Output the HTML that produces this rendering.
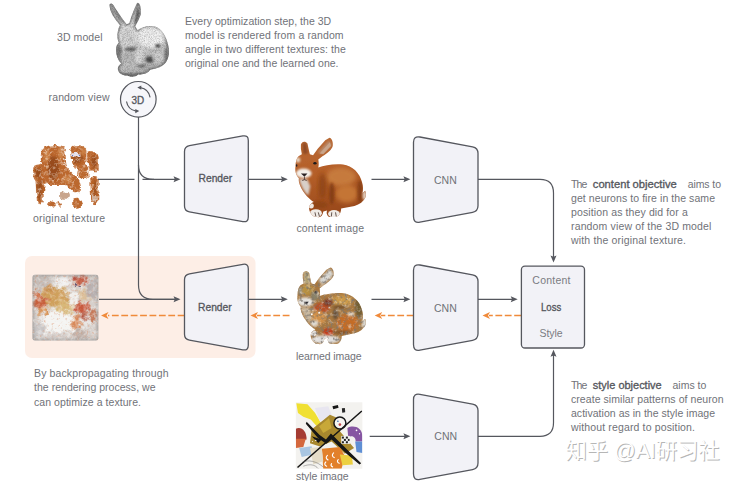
<!DOCTYPE html>
<html><head><meta charset="utf-8">
<style>
html,body{margin:0;padding:0;background:#fff;}
body{width:740px;height:481px;overflow:hidden;}
svg{display:block;}
text{font-family:"Liberation Sans","DejaVu Sans",sans-serif;font-size:10.5px;fill:#707278;}
.b{font-weight:normal;fill:#55575d;stroke:#55575d;stroke-width:0.32px;}
.ln{fill:none;stroke:#55575e;stroke-width:1.2;}
.box{fill:#f2f2f7;stroke:#55575e;stroke-width:1.3;stroke-linejoin:round;}
.or{fill:none;stroke:#f08a3a;stroke-width:1.6;stroke-dasharray:6.8 2.6;}
</style></head><body>
<svg width="740" height="481" viewBox="0 0 740 481">
<defs>
<filter id="bl"><feGaussianBlur stdDeviation="0.35"/></filter>
</defs>
<rect width="740" height="481" fill="#fff"/>
<!-- highlight -->
<rect x="25" y="256" width="230.500" height="102" rx="7" fill="#fdeee6"/>

<!-- IMG1 -->
<defs>
<linearGradient id="g3d" x1="0" y1="0" x2="0.35" y2="1">
<stop offset="0" stop-color="#c4c4c4"/><stop offset="0.45" stop-color="#e2e2e2"/><stop offset="1" stop-color="#b4b4b4"/>
</linearGradient>
<filter id="b1" x="-20%" y="-20%" width="140%" height="140%"><feGaussianBlur stdDeviation="1.6"/></filter>
<filter id="b2" x="-30%" y="-30%" width="160%" height="160%"><feGaussianBlur stdDeviation="6"/></filter>
<filter id="b3" x="-30%" y="-30%" width="160%" height="160%"><feGaussianBlur stdDeviation="10"/></filter>
<filter id="noise" x="0" y="0" width="100%" height="100%">
<feTurbulence type="fractalNoise" baseFrequency="0.9" numOctaves="2" seed="3" result="n"/>
<feColorMatrix in="n" type="matrix" values="0 0 0 0 0  0 0 0 0 0  0 0 0 0 0  1.6 0 0 0 -0.6" result="a"/>
<feComposite in="a" in2="SourceAlpha" operator="in"/>
</filter>
<path id="bun3d" d="M56 32 C58 18 72 16 80 30 L96 56 L116 86 L140 120 L160 146 L176 140 L188 100 L208 50 L223 18 C235 12 243 30 245 50 L246 85 L232 120 L212 158 L226 182 C250 165 290 150 330 160 C370 170 400 220 412 280 C420 320 412 350 396 375 C380 400 340 415 302 420 C290 442 250 452 230 446 C210 466 180 464 163 452 C140 458 112 442 108 420 C104 404 114 390 128 384 C108 360 96 330 96 300 C96 280 103 265 113 255 C103 235 101 210 108 185 C112 168 116 158 120 152 L95 120 L75 90 L62 60 Z"/>
<clipPath id="c3d"><use href="#bun3d"/></clipPath>
</defs>
<!-- 3D model bunny -->
<g transform="translate(100,0) scale(0.16632)">
<g filter="url(#b1)">
<use href="#bun3d" fill="url(#g3d)"/>
<g clip-path="url(#c3d)">
<use href="#bun3d" fill="none" stroke="#5a5a5a" stroke-width="16" filter="url(#b2)" opacity="0.75"/>
<ellipse cx="305" cy="225" rx="85" ry="62" fill="#f0f0f0" filter="url(#b3)"/>
<ellipse cx="165" cy="210" rx="38" ry="42" fill="#d4d4d4" filter="url(#b2)"/>
<ellipse cx="195" cy="296" rx="50" ry="13" fill="#666" filter="url(#b2)"/>
<ellipse cx="114" cy="320" rx="18" ry="55" fill="#7a7a7a" filter="url(#b2)"/>
<ellipse cx="348" cy="275" rx="16" ry="11" fill="#3c3c3c" filter="url(#b2)"/>
<ellipse cx="300" cy="358" rx="26" ry="20" fill="#505050" filter="url(#b2)"/>
<ellipse cx="400" cy="340" rx="14" ry="55" fill="#7a7a7a" filter="url(#b2)"/>
<ellipse cx="200" cy="452" rx="95" ry="10" fill="#6c6c6c" filter="url(#b2)"/>
<ellipse cx="250" cy="395" rx="26" ry="10" fill="#747474" filter="url(#b2)"/>
<path d="M66 40 L120 125 L140 145 L110 90 Z" fill="#606060" filter="url(#b2)"/>
<path d="M226 30 L238 80 L218 140 L206 140 Z" fill="#555" filter="url(#b2)"/>
<ellipse cx="235" cy="330" rx="28" ry="55" fill="#d8d8d8" filter="url(#b3)"/>
<ellipse cx="350" cy="340" rx="35" ry="40" fill="#cdcdcd" filter="url(#b3)"/>
<ellipse cx="165" cy="345" rx="45" ry="30" fill="#b8b8b8" filter="url(#b3)"/>
</g>
</g>
<use href="#bun3d" fill="#333" filter="url(#noise)" opacity="0.3"/>
</g>
<!-- /IMG1 -->
<!-- IMG2 -->
<defs>
<filter id="rough" x="-10%" y="-10%" width="120%" height="120%">
<feTurbulence type="fractalNoise" baseFrequency="0.035" numOctaves="3" seed="7" result="t"/>
<feDisplacementMap in="SourceGraphic" in2="t" scale="28" xChannelSelector="R" yChannelSelector="G" result="d"/>
<feGaussianBlur in="d" stdDeviation="1.8"/>
</filter>
<filter id="mottle" x="0" y="0" width="100%" height="100%">
<feTurbulence type="fractalNoise" baseFrequency="0.05" numOctaves="3" seed="11" result="n"/>
<feColorMatrix in="n" type="matrix" values="0 0 0 0 1  0 0 0 0 0.95  0 0 0 0 0.9  2.2 0 0 0 -1.05" result="a"/>
<feComposite in="a" in2="SourceAlpha" operator="in"/>
<feGaussianBlur stdDeviation="1.5"/>
</filter>
</defs>
<!-- original texture -->
<g transform="translate(25,135) scale(0.16632)" filter="url(#rough)">
<g fill="#bb672e" id="otex">
<path d="M100 95 C120 60 200 50 235 70 C250 110 240 160 255 200 C290 230 320 260 335 320 C320 350 295 350 280 330 C260 310 250 300 235 300 L140 300 C120 280 118 240 112 200 C95 170 90 130 100 95 Z"/>
<path d="M50 190 C70 170 110 175 125 200 L130 290 C100 300 60 290 50 250 Z"/>
<path d="M62 255 C80 245 110 250 118 270 L112 400 C100 425 80 420 72 400 Z"/>
<path d="M275 80 C300 55 350 55 365 85 C375 110 365 130 372 150 C365 185 330 200 300 195 C280 180 285 150 280 130 C270 110 268 95 275 80 Z"/>
<path d="M375 100 C400 88 438 105 443 140 L443 215 C425 232 395 225 385 205 C378 170 368 130 375 100 Z"/>
<path d="M392 250 C410 240 438 245 443 262 L440 400 C430 422 405 420 398 400 Z"/>
<path d="M325 165 C360 160 392 195 388 245 C362 280 325 268 315 238 C308 210 312 182 325 165 Z"/>
<path d="M140 405 C160 395 180 400 185 415 C180 435 150 440 140 425 Z"/>
<path d="M195 400 C210 395 225 405 222 420 C210 430 195 425 195 400 Z"/>
<path d="M290 390 C310 375 345 385 345 410 C335 440 300 445 290 425 Z"/>
<path d="M300 250 C325 260 340 300 335 330 C310 330 290 300 300 250 Z"/>
</g>
<g fill="#8a4218" filter="url(#b2)" opacity="0.7">
<ellipse cx="170" cy="200" rx="35" ry="70"/>
<ellipse cx="90" cy="330" rx="15" ry="60"/>
<ellipse cx="320" cy="140" rx="30" ry="30"/>
<ellipse cx="415" cy="160" rx="15" ry="40"/>
<ellipse cx="420" cy="320" rx="10" ry="50"/>
<ellipse cx="80" cy="230" rx="20" ry="30"/>
</g>
<g fill="#d08a50" filter="url(#b2)" opacity="0.8">
<ellipse cx="130" cy="120" rx="20" ry="40"/>
<ellipse cx="215" cy="110" rx="15" ry="40"/>
<ellipse cx="350" cy="100" rx="12" ry="25"/>
<ellipse cx="250" cy="270" rx="25" ry="20"/>
</g>
<g fill="#c9a58c">
<path d="M210 345 C230 335 265 340 270 365 C260 395 225 395 212 380 Z"/>
<path d="M402 360 C415 355 432 360 432 380 C430 410 410 412 404 395 Z"/>
</g>
<use href="#otex" filter="url(#mottle)" opacity="0.7"/>
<g fill="#e8e4ee"><ellipse cx="305" cy="118" rx="28" ry="12"/></g>
<g fill="#5a6ab0"><circle cx="292" cy="118" r="4"/><circle cx="322" cy="116" r="4"/></g>
<path d="M310 200 L330 250 L345 290 M380 200 L385 250" stroke="#fff" stroke-width="5" fill="none"/>
<path d="M230 140 L245 190" stroke="#fff" stroke-width="4" fill="none"/>
</g>
<!-- /IMG2 -->
<!-- IMG3 -->
<defs>
<path id="bunc" d="M85 78 C90 58 110 58 120 72 L128 110 L133 130 L150 135 L175 100 L215 55 L238 42 C250 44 258 65 255 85 C250 105 225 125 200 140 L178 158 C181 175 181 190 178 200 C210 190 260 180 310 185 C360 192 400 230 412 280 C418 300 418 320 414 338 L428 325 C438 340 432 365 420 375 C405 395 380 405 350 410 L300 420 C300 440 290 462 270 465 L235 465 C222 455 220 440 225 430 L205 435 C200 455 195 465 180 466 L155 462 C135 450 125 425 130 408 C135 395 145 388 155 385 C130 370 100 340 82 300 C75 285 72 270 74 258 C60 245 52 220 56 195 C56 170 62 150 72 140 L90 130 L85 100 Z"/>
<clipPath id="cbc"><use href="#bunc"/></clipPath>
<linearGradient id="gcb" x1="0" y1="0" x2="0.2" y2="1">
<stop offset="0" stop-color="#b96a35"/><stop offset="0.5" stop-color="#b45e28"/><stop offset="1" stop-color="#9a4a1c"/>
</linearGradient>
</defs>
<!-- content bunny -->
<g transform="translate(285,130) scale(0.18711)">
<g filter="url(#b1)">
<use href="#bunc" fill="url(#gcb)"/>
<g clip-path="url(#cbc)">
<ellipse cx="300" cy="250" rx="80" ry="50" fill="#c67a3e" filter="url(#b3)"/>
<ellipse cx="330" cy="340" rx="60" ry="50" fill="#c47436" filter="url(#b3)"/>
<ellipse cx="250" cy="340" rx="14" ry="60" fill="#7e3a14" filter="url(#b2)" opacity="0.8"/>
<ellipse cx="200" cy="300" rx="20" ry="70" fill="#8a4218" filter="url(#b3)" opacity="0.8"/>
<ellipse cx="400" cy="330" rx="14" ry="60" fill="#7e3a14" filter="url(#b2)" opacity="0.7"/>
<ellipse cx="180" cy="400" rx="50" ry="20" fill="#8a4218" filter="url(#b2)" opacity="0.7"/>
<path d="M95 70 L112 70 L122 125 L98 128 Z" fill="#8c4a26" filter="url(#b2)"/>
<path d="M175 120 L235 55 L250 80 L200 130 Z" fill="#b98a6a" filter="url(#b2)"/>
<path d="M185 125 L240 65 L246 85 L205 128 Z" fill="#c9a58a" filter="url(#b1)"/>
<!-- muzzle white -->
<ellipse cx="100" cy="232" rx="42" ry="26" fill="#f4efe9" filter="url(#b2)"/>
<path d="M75 260 C85 300 100 330 125 350 L135 300 L120 265 Z" fill="#d8cfc8" filter="url(#b2)"/>
<ellipse cx="70" cy="160" rx="12" ry="14" fill="#e8d8c8" filter="url(#b2)"/>
<!-- nose -->
<path d="M85 232 L120 232 L104 250 Z" fill="#2a2024"/>
<path d="M104 250 L104 265 M104 265 L92 270 M104 265 L116 270" stroke="#3a2a2a" stroke-width="4" fill="none"/>
<!-- eye -->
<ellipse cx="160" cy="178" rx="9" ry="7" fill="#1e1a1a"/>
<ellipse cx="62" cy="190" rx="4" ry="7" fill="#2a2222"/>
<!-- paws -->
<ellipse cx="165" cy="445" rx="32" ry="22" fill="#f0ebe6" filter="url(#b1)"/>
<ellipse cx="262" cy="448" rx="32" ry="20" fill="#f0ebe6" filter="url(#b1)"/>
<ellipse cx="140" cy="405" rx="14" ry="14" fill="#efe8e2" filter="url(#b1)"/>
<path d="M160 440 L165 462 M178 440 L184 462 M250 440 L248 462 M270 440 L274 462" stroke="#5a4a44" stroke-width="5"/>
<ellipse cx="425" cy="350" rx="10" ry="24" fill="#e6d6c8" filter="url(#b2)"/>
</g>
</g>
</g>
<!-- /IMG3 -->
<!-- IMG4 -->
<defs>
<filter id="mot2" x="0" y="0" width="100%" height="100%">
<feTurbulence type="fractalNoise" baseFrequency="0.045" numOctaves="3" seed="23" result="n"/>
<feColorMatrix in="n" type="matrix" values="0 0 0 0 0.93  0 0 0 0 0.92  0 0 0 0 0.9  2.6 0 0 0 -1.3" result="a"/>
<feComposite in="a" in2="SourceAlpha" operator="in"/>
<feGaussianBlur stdDeviation="1.2"/>
</filter>
<filter id="mot3" x="0" y="0" width="100%" height="100%">
<feTurbulence type="fractalNoise" baseFrequency="0.06" numOctaves="2" seed="5" result="n"/>
<feColorMatrix in="n" type="matrix" values="0 0 0 0 0.2  0 0 0 0 0.18  0 0 0 0 0.16  0 3.2 0 0 -1.62" result="a"/>
<feComposite in="a" in2="SourceAlpha" operator="in"/>
<feGaussianBlur stdDeviation="1.2"/>
</filter>
</defs>
<!-- learned bunny -->
<g transform="translate(285,260) scale(0.18711) translate(12.5,-0.6) scale(0.97,0.967)">
<g filter="url(#b1)">
<use href="#bunc" fill="#a87840"/>
<g clip-path="url(#cbc)">
<ellipse cx="300" cy="225" rx="60" ry="30" fill="#cc9a48" filter="url(#b3)"/>
<ellipse cx="330" cy="350" rx="60" ry="50" fill="#c46c28" filter="url(#b3)"/>
<ellipse cx="395" cy="260" rx="22" ry="60" fill="#6a5a30" filter="url(#b2)" opacity="0.85"/>
<ellipse cx="190" cy="265" rx="45" ry="28" fill="#b85028" filter="url(#b2)"/>
<ellipse cx="225" cy="235" rx="25" ry="18" fill="#7a3020" filter="url(#b2)"/>
<ellipse cx="225" cy="400" rx="28" ry="24" fill="#c03c1c" filter="url(#b2)"/>
<ellipse cx="265" cy="300" rx="14" ry="30" fill="#5a4a3a" filter="url(#b2)" opacity="0.8"/>
<ellipse cx="170" cy="320" rx="40" ry="40" fill="#d09048" filter="url(#b2)"/>
<ellipse cx="110" cy="165" rx="35" ry="30" fill="#b89040" filter="url(#b2)"/>
<path d="M92 66 L118 66 L128 128 L92 130 Z" fill="#c8c0a0" filter="url(#b2)"/>
<path d="M100 70 L110 70 L118 125 L104 125 Z" fill="#a08a50" filter="url(#b2)"/>
<path d="M170 115 L235 48 L256 80 L200 138 Z" fill="#d4d4d0" filter="url(#b2)"/>
<ellipse cx="100" cy="232" rx="45" ry="26" fill="#e4e2de" filter="url(#b2)"/>
<ellipse cx="150" cy="200" rx="22" ry="26" fill="#8a8268" filter="url(#b2)"/>
<ellipse cx="70" cy="170" rx="12" ry="20" fill="#9a9484" filter="url(#b2)"/>
<path d="M75 260 C85 300 100 330 125 350 L135 300 L120 265 Z" fill="#c8b8a0" filter="url(#b2)"/>
<ellipse cx="210" cy="440" rx="80" ry="24" fill="#e0dedc" filter="url(#b2)"/>
<ellipse cx="145" cy="405" rx="16" ry="16" fill="#e4e0dc" filter="url(#b1)"/>
<ellipse cx="425" cy="350" rx="12" ry="26" fill="#dcdcd8" filter="url(#b2)"/>
<ellipse cx="150" cy="350" rx="22" ry="16" fill="#dcd8d0" filter="url(#b2)"/>
<ellipse cx="350" cy="300" rx="18" ry="10" fill="#e0d8c8" filter="url(#b2)"/>
<ellipse cx="290" cy="260" rx="40" ry="10" fill="#6a4a2a" filter="url(#b2)" opacity="0.8"/>
<ellipse cx="300" cy="400" rx="50" ry="10" fill="#7a4a22" filter="url(#b2)" opacity="0.8"/>
<circle cx="135" cy="300" r="5" fill="#fff"/><circle cx="175" cy="292" r="5" fill="#fff"/><circle cx="230" cy="265" r="4" fill="#fff"/><circle cx="330" cy="215" r="4" fill="#f8e8c0"/>
<path d="M88 232 L118 232 L104 248 Z" fill="#2a2a30"/>
<ellipse cx="158" cy="180" rx="8" ry="7" fill="#222"/>
</g>
</g>
<use href="#bunc" filter="url(#mot2)" opacity="0.5"/>
<use href="#bunc" filter="url(#mot3)" opacity="0.9"/>
</g>
<!-- /IMG4 -->
<!-- IMG5 -->
<defs>
<clipPath id="clt"><rect x="45" y="40" width="396" height="396" rx="14"/></clipPath>
<filter id="mot4" x="0" y="0" width="100%" height="100%">
<feTurbulence type="fractalNoise" baseFrequency="0.04" numOctaves="3" seed="31" result="n"/>
<feColorMatrix in="n" type="matrix" values="0 0 0 0 0.97  0 0 0 0 0.96  0 0 0 0 0.95  2.6 0 0 0 -1.15" result="a"/>
<feComposite in="a" in2="SourceAlpha" operator="in"/>
<feGaussianBlur stdDeviation="1.5"/>
</filter>
<filter id="mot5" x="0" y="0" width="100%" height="100%">
<feTurbulence type="fractalNoise" baseFrequency="0.07" numOctaves="2" seed="9" result="n"/>
<feColorMatrix in="n" type="matrix" values="0 0 0 0 0.72  0 0 0 0 0.3  0 0 0 0 0.16  0 2.8 0 0 -1.6" result="a"/>
<feComposite in="a" in2="SourceAlpha" operator="in"/>
<feGaussianBlur stdDeviation="1.5"/>
</filter>
<filter id="rough2" x="-5%" y="-5%" width="110%" height="110%">
<feTurbulence type="fractalNoise" baseFrequency="0.03" numOctaves="4" seed="17" result="t"/>
<feDisplacementMap in="SourceGraphic" in2="t" scale="70" xChannelSelector="R" yChannelSelector="G" result="d"/>
<feGaussianBlur in="d" stdDeviation="2.2"/>
</filter>
</defs>
<!-- learned texture -->
<g transform="translate(25,268) scale(0.16632)">
<g clip-path="url(#clt)">
<g filter="url(#rough2)">
<rect x="-20" y="-20" width="530" height="530" fill="#d6d0cc"/>
<ellipse cx="100" cy="90" rx="60" ry="50" fill="#c4bcb8" filter="url(#b3)"/>
<ellipse cx="200" cy="330" rx="110" ry="80" fill="#f4f4f2" filter="url(#b3)"/>
<ellipse cx="230" cy="90" rx="40" ry="50" fill="#f0efee" filter="url(#b3)"/>
<ellipse cx="180" cy="175" rx="85" ry="60" fill="#cfa05c" filter="url(#b3)"/>
<ellipse cx="240" cy="235" rx="60" ry="38" fill="#d8b878" filter="url(#b3)"/>
<ellipse cx="90" cy="210" rx="40" ry="40" fill="#c8603c" filter="url(#b2)"/>
<ellipse cx="120" cy="260" rx="30" ry="20" fill="#d89050" filter="url(#b2)"/>
<ellipse cx="330" cy="75" rx="45" ry="30" fill="#c4604a" filter="url(#b2)"/>
<ellipse cx="340" cy="240" rx="40" ry="40" fill="#c8583c" filter="url(#b2)"/>
<ellipse cx="360" cy="160" rx="40" ry="35" fill="#dcc09a" filter="url(#b3)"/>
<ellipse cx="310" cy="330" rx="30" ry="40" fill="#d88858" filter="url(#b2)"/>
<ellipse cx="400" cy="130" rx="30" ry="60" fill="#b8b0b0" filter="url(#b3)"/>
<ellipse cx="410" cy="280" rx="25" ry="40" fill="#c47858" filter="url(#b2)"/>
<ellipse cx="80" cy="380" rx="40" ry="50" fill="#c8c4c4" filter="url(#b3)"/>
<ellipse cx="330" cy="400" rx="50" ry="25" fill="#c0b0a8" filter="url(#b2)"/>
<ellipse cx="310" cy="110" rx="10" ry="8" fill="#5a4a6a" filter="url(#b1)"/>
<ellipse cx="150" cy="130" rx="30" ry="20" fill="#c89050" filter="url(#b2)"/>
<ellipse cx="70" cy="160" rx="20" ry="25" fill="#d07048" filter="url(#b2)"/>
<ellipse cx="290" cy="180" rx="20" ry="50" fill="#f2f0ec" filter="url(#b2)"/>
<ellipse cx="370" cy="330" rx="30" ry="30" fill="#e8e6e4" filter="url(#b2)"/>
<ellipse cx="350" cy="290" rx="25" ry="14" fill="#b04830" filter="url(#b2)"/>
<ellipse cx="300" cy="60" rx="20" ry="14" fill="#b85040" filter="url(#b2)"/>
<ellipse cx="200" cy="400" rx="60" ry="18" fill="#d0c8c4" filter="url(#b2)"/>
</g>
<rect x="45" y="40" width="396" height="396" rx="14" fill="none" stroke="#9c9896" stroke-width="22" filter="url(#b2)" opacity="0.75"/>
<rect x="40" y="35" width="410" height="410" filter="url(#mot4)" opacity="0.45"/>
<rect x="40" y="35" width="410" height="410" filter="url(#mot5)" opacity="0.6"/>
</g>
</g>
<!-- /IMG5 -->
<!-- IMG6 -->
<defs><clipPath id="cst"><rect x="35" y="25" width="400" height="400"/></clipPath></defs>
<!-- style image -->
<g transform="translate(290,398) scale(0.16632)">
<g clip-path="url(#cst)"><g filter="url(#b1)">
<rect x="30" y="20" width="410" height="410" fill="#f3f2ef"/>
<path d="M38 32 L105 38 L150 88 L195 165 L170 180 L125 130 L80 112 L48 90 Z" fill="#f0e030"/>
<path d="M150 60 L230 50 L250 100 L180 140 Z" fill="#e8e6f0"/>
<path d="M35 185 C70 170 100 200 100 250 L35 255 Z" fill="#a43a30"/>
<path d="M35 245 L95 245 L80 295 L35 300 Z" fill="#d4683c"/>
<path d="M55 300 L130 290 L140 340 L70 355 Z" fill="#a9c6e2"/>
<path d="M130 190 L240 100 L282 118 L300 200 L385 300 L330 335 L250 262 L180 292 L120 272 Z" fill="#a8882e"/>
<path d="M175 170 L235 120 L250 180 L200 210 Z" fill="#c8a838"/>
<path d="M345 180 C380 160 435 175 435 230 L435 262 L395 262 C395 230 370 225 350 235 Z" fill="#8656a2"/>
<path d="M392 262 L435 262 L435 330 L400 325 Z" fill="#5f8fd4"/>
<path d="M192 305 L300 295 L330 350 L310 425 L200 425 Z" fill="#e2802c"/>
<path d="M300 340 L372 345 L378 400 L315 405 Z" fill="#ecd040"/>
<path d="M120 300 L190 295 L200 380 L140 400 Z" fill="#e4dcc8"/>
<circle cx="300" cy="150" r="36" fill="#f6f4f0" stroke="#181818" stroke-width="9"/>
<circle cx="300" cy="160" r="8" fill="#c04848"/><circle cx="288" cy="140" r="5" fill="#3a6ab0"/>
<rect x="308" y="228" width="52" height="48" fill="#f0f0ee"/>
<g fill="#202020"><rect x="312" y="232" width="12" height="12"/><rect x="336" y="232" width="12" height="12"/><rect x="324" y="246" width="12" height="12"/><rect x="348" y="246" width="10" height="12"/><rect x="312" y="260" width="12" height="12"/><rect x="336" y="260" width="12" height="12"/></g>
<path d="M45 418 L432 78" stroke="#141414" stroke-width="9" fill="none"/>
<path d="M100 143 L178 222 L216 250 L246 214 L352 318 L428 392 L418 400 L340 335 L250 250 L218 275 L168 240 L95 155 Z" fill="#141414"/>
<path d="M130 230 L190 250 L170 270 Z" fill="#141414"/>
<path d="M255 50 L288 42 L292 58 L260 68 Z" fill="#181818"/>
<path d="M312 62 L330 60 L332 86 L314 88 Z" fill="#282828"/>
<g stroke="#fff" stroke-width="7" fill="none" stroke-linecap="round"><path d="M225 345 C215 355 215 365 228 372"/><path d="M262 330 C252 340 252 352 266 358"/><path d="M215 385 C205 395 208 405 220 410"/><path d="M290 370 C282 378 284 388 296 392"/><path d="M250 395 C244 402 246 410 256 414"/></g>
<path d="M75 385 C110 370 160 380 200 415 M80 410 C120 395 150 400 170 425" stroke="#6a6a6a" stroke-width="3" fill="none"/>
<g fill="#fff"><circle cx="400" cy="195" r="5"/><circle cx="418" cy="215" r="4"/><circle cx="155" cy="255" r="4"/><circle cx="135" cy="262" r="3"/></g>
</g></g>
</g>
<!-- /IMG6 -->
<!-- IMAGES-PLACEHOLDER -->

<!-- lines -->
<g class="ln">
<path d="M138.500 117 V285 Q138.500 299.3 153 299.3 H176"/>
<path d="M98 179.3 H134.500 M142.500 179.3 H154"/>
<path d="M138.500 165 Q138.500 179.3 153 179.3 H176"/>
<path d="M248.300 179.3 H283"/>
<path d="M371.500 179.3 H406"/>
<path d="M478 179.3 H540 Q553.500 179.3 553.500 193 V258"/>
<path d="M99 299.3 H176"/>
<path d="M248.300 299.3 H283"/>
<path d="M371.500 299.3 H406"/>
<path d="M478 299.3 H513"/>
<path d="M369.700 436.3 H406"/>
<path d="M478 436.3 H540 Q553.500 436.3 553.500 422.800 V354"/>
</g>
<g fill="#55575e">
<path d="M180.5 179.3 l-7 -3 l1.3 3 l-1.3 3z"/>
<path d="M287.8 179.3 l-7 -3 l1.3 3 l-1.3 3z"/>
<path d="M410.4 179.3 l-7 -3 l1.3 3 l-1.3 3z"/>
<path d="M180.5 299.3 l-7 -3 l1.3 3 l-1.3 3z"/>
<path d="M287.8 299.3 l-7 -3 l1.3 3 l-1.3 3z"/>
<path d="M410.4 299.3 l-7 -3 l1.3 3 l-1.3 3z"/>
<path d="M517.7 299.3 l-7 -3 l1.3 3 l-1.3 3z"/>
<path d="M410.4 436.3 l-7 -3 l1.3 3 l-1.3 3z"/>
<path d="M553.5 262.4 l-3 -7 l3 1.3 l3 -1.3z"/>
<path d="M553.5 349.8 l-3 7 l3 -1.3 l3 1.3z"/>
</g>
<!-- orange dashed -->
<g class="or">
<path d="M184.500 315.5 H108"/>
<path d="M289.500 315.5 H257"/>
<path d="M413.500 315.5 H381"/>
<path d="M521 315.5 H489"/>
</g>
<g fill="#f08a3a">
<path d="M101 315.5 l7.500 -3.500 l-2 3.500 l2 3.500z"/>
<path d="M250.500 315.5 l7.500 -3.500 l-2 3.500 l2 3.500z"/>
<path d="M374.700 315.5 l7.500 -3.500 l-2 3.500 l2 3.500z"/>
<path d="M482.500 315.5 l7.500 -3.500 l-2 3.500 l2 3.500z"/>
</g>

<!-- boxes -->
<path class="box" d="M184.50 151.50 Q184.50 146.50 189.42 145.61 L242.89 135.98 Q248.30 135.00 248.30 140.50 L248.30 217.00 Q248.30 222.50 242.89 221.52 L189.42 211.89 Q184.50 211.00 184.50 206.00 Z"/>
<path class="box" d="M184.50 279.80 Q184.50 274.80 189.42 273.91 L242.89 264.28 Q248.30 263.30 248.30 268.80 L248.30 345.30 Q248.30 350.80 242.89 349.82 L189.42 340.19 Q184.50 339.30 184.50 334.30 Z"/>
<path class="box" d="M413.50 142.30 Q413.50 135.80 419.89 136.99 L472.59 146.79 Q478.00 147.80 478.00 153.30 L478.00 205.80 Q478.00 211.30 472.59 212.31 L419.89 222.11 Q413.50 223.30 413.50 216.80 Z"/>
<path class="box" d="M413.50 270.30 Q413.50 263.80 419.89 264.99 L472.59 274.79 Q478.00 275.80 478.00 281.30 L478.00 333.80 Q478.00 339.30 472.59 340.31 L419.89 350.11 Q413.50 351.30 413.50 344.80 Z"/>
<path class="box" d="M413.50 399.60 Q413.50 393.10 419.89 394.29 L472.59 404.09 Q478.00 405.10 478.00 410.60 L478.00 463.10 Q478.00 468.60 472.59 469.61 L419.89 479.41 Q413.50 480.60 413.50 474.10 Z"/>
<rect class="box" x="521.400" y="266.200" width="63.100" height="81.800" rx="3.500"/>

<!-- circle icon -->
<circle cx="138.300" cy="99.300" r="17.800" fill="#f6f6fa" stroke="#55575e" stroke-width="1.2"/>
<path d="M140.400 87.600 A12 12 0 0 1 150.100 97.300 M126.500 101.500 A12 12 0 0 0 136.200 111.200" fill="none" stroke="#55575e" stroke-width="1.2"/>
<path d="M137.300 87.600 L141.300 85.500 L141.300 89.800 Z M139.300 111.100 L135.300 109 L135.300 113.300 Z" fill="#55575e"/>

<!-- text -->
<g id="txt">
<text x="57" y="40.500" textLength="45.5">3D model</text>
<text x="48.500" y="101" textLength="61">random view</text>
<text x="131.500" y="103.700" class="b" textLength="12.700" lengthAdjust="spacingAndGlyphs" style="font-size:10px;fill:#55575d">3D</text>
<text x="185" y="24.500" textLength="146.200">Every optimization step, the 3D</text>
<text x="185" y="38.700" textLength="158.600">model is rendered from a random</text>
<text x="185" y="52.900" textLength="160.900">angle in two different textures: the</text>
<text x="185" y="67.100" textLength="153.500">original one and the learned one.</text>
<text x="33" y="222" textLength="72">original texture</text>
<text x="198.500" y="182.400" class="b" textLength="33.700" lengthAdjust="spacingAndGlyphs">Render</text>
<text x="198" y="311" class="b" textLength="33.700" lengthAdjust="spacingAndGlyphs">Render</text>
<text x="296.500" y="231.500" textLength="67.500">content image</text>
<text x="296" y="360" textLength="65.500">learned image</text>
<text x="296" y="480" textLength="52.500">style image</text>
<text x="434" y="183.500">CNN</text>
<text x="434" y="311.500">CNN</text>
<text x="434.300" y="440.300">CNN</text>
<text x="532.300" y="284.300" style="fill:#7a7c82" textLength="38.200">Content</text>
<text x="541" y="311.300" class="b" textLength="20.200" lengthAdjust="spacingAndGlyphs">Loss</text>
<text x="539.400" y="337.200" style="fill:#7a7c82" textLength="23.300">Style</text>
<text x="571" y="188" textLength="16.300">The</text>
<text x="592.800" y="188" class="b" textLength="84" lengthAdjust="spacingAndGlyphs">content objective</text>
<text x="687.700" y="188" textLength="33.300">aims to</text>
<text x="571" y="202.100" textLength="144">get neurons to fire in the same</text>
<text x="571" y="216.200" textLength="116.800">position as they did for a</text>
<text x="571" y="230.300" textLength="140.400">random view of the 3D model</text>
<text x="571" y="244.400" textLength="115">with the original texture.</text>
<text x="571" y="389" textLength="16.300">The</text>
<text x="592.800" y="389" class="b" textLength="68.900" lengthAdjust="spacingAndGlyphs">style objective</text>
<text x="672.400" y="389" textLength="34">aims to</text>
<text x="571" y="403.100" textLength="152.500">create similar patterns of neuron</text>
<text x="571" y="417.200" textLength="144">activation as in the style image</text>
<text x="571" y="431.300" textLength="124">without regard to position.</text>
<text x="34" y="377.300" textLength="134.500">By backpropagating through</text>
<text x="34" y="391.400" textLength="121.500">the rendering process, we</text>
<text x="34" y="405.500" textLength="107">can optimize a texture.</text>
</g>
<g style="font-family:'Liberation Sans','Noto Sans CJK SC',sans-serif;font-size:21.300px">
<text x="566.500" y="459.100" style="font-family:inherit;font-size:inherit;fill:#b6b6b6">知乎 @AI研习社</text>
<text x="565.500" y="458.100" style="font-family:inherit;font-size:inherit;fill:#fff">知乎 @AI研习社</text>
</g>
</svg>
</body></html>
